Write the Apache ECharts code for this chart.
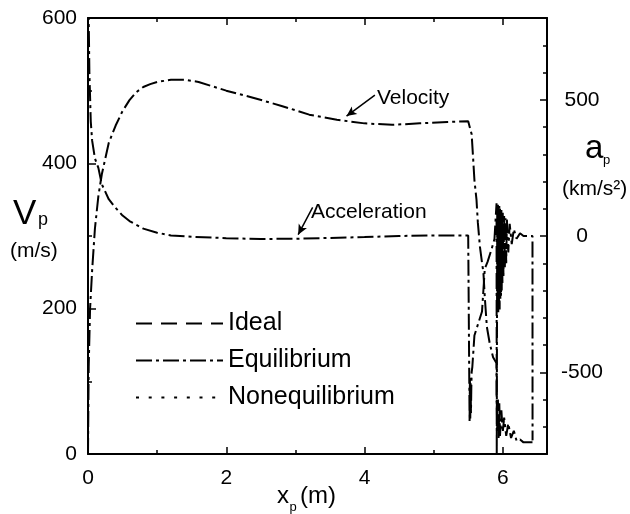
<!DOCTYPE html>
<html>
<head>
<meta charset="utf-8">
<script src="https://cdn.jsdelivr.net/npm/echarts@6/dist/echarts.min.js"></script>
<style>
html,body{margin:0;padding:0;background:#fff;}
#chart{width:630px;height:514px;}
</style>
</head>
<body>
<div id="chart"></div>
<script>
// ---- data ----
// Equilibrium velocity V_p (m/s) vs x_p (m)
var velX = [0, 0.01, 0.03, 0.06, 0.1, 0.15, 0.2, 0.3, 0.4, 0.5, 0.6, 0.7, 0.8, 0.9, 1.0, 1.2, 1.4, 1.6, 1.8, 2.0, 2.4, 2.8, 3.2, 3.6, 4.0, 4.4, 4.8, 5.2, 5.5,
            5.52, 5.55, 5.57, 5.59, 5.62, 5.64, 5.67, 5.70, 5.72, 5.74, 5.77, 5.81, 5.86, 5.91,
            5.912, 5.92, 5.93, 5.94, 5.95, 5.96, 5.98, 6.0, 6.02, 6.05, 6.08, 6.12, 6.16, 6.2, 6.25, 6.3, 6.43];
var velV = [0, 120, 200, 253, 310, 355, 385, 428, 452, 472, 487, 498, 505, 509, 512, 515, 515, 512, 506, 500, 490, 479, 467, 460, 455, 453, 455, 457, 458,
            456, 440, 409, 377, 350, 318, 285, 263, 250, 216, 175, 153, 133, 125,
            80, 30, 75, 20, 70, 25, 60, 30, 50, 25, 42, 22, 32, 18, 20, 16, 16];
// Equilibrium acceleration a_p (km/s^2) vs x_p (m)
var accX = [0, 0.01, 0.02, 0.04, 0.06, 0.1, 0.15, 0.2, 0.3, 0.4, 0.5, 0.6, 0.8, 1.0, 1.2, 1.5, 2.0, 2.5, 3.0, 3.5, 4.0, 4.5, 5.0, 5.5,
            5.52, 5.525, 5.53, 5.535, 5.54, 5.545, 5.55, 5.56, 5.59, 5.70, 5.74, 5.78, 5.84, 5.88,
            5.91, 5.913, 5.92, 5.925, 5.93, 5.935, 5.94, 5.945, 5.95, 5.955, 5.96, 5.965, 5.97, 5.975, 5.98, 5.985, 5.99, 5.995,
            6.0, 6.01, 6.02, 6.03, 6.04, 6.05, 6.06, 6.08, 6.1, 6.13, 6.16, 6.2, 6.25, 6.3, 6.43, 6.431];
var accA = [950, 800, 600, 420, 350, 285, 250, 190, 135, 103, 75, 55, 27, 12, 2, -3, -8, -11, -10, -7, -4, 0, 2, 2,
            -680, -520, -670, -540, -650, -560, -500, -480, -365, -277, -120, -95, -47, -11,
            120, -800, 110, -260, 115, -280, 105, -250, 110, -270, 100, -230, 95, -220, 95, -200, 90, -180,
            85, -150, 75, -120, 65, -100, 60, -60, 45, -30, 25, -10, 10, 0, 0, -750];
var xMajorTicks = [0, 2, 4, 6];
var xMinorTicks = [1, 3, 5];
var accLabelTicks = [-500, 0, 500];
var legendNames = ['Ideal', 'Equilibrium', 'Nonequilibrium'];

var FONT = 'Liberation Sans, Arial, Helvetica, sans-serif';
var BLACK = '#000';

var velData = velX.map(function (x, i) { return [x, velV[i]]; });
var accData = accX.map(function (x, i) { return [x, accA[i]]; });

var chart = echarts.init(document.getElementById('chart'), null, {renderer: 'canvas'});

function xAxisCfg(pos, labels, ticks, tickLen, showLine) {
  return {
    type: 'value', position: pos, min: 0, max: 6.64,
    axisLine: {show: showLine, onZero: false, lineStyle: {color: BLACK, width: 2}},
    axisTick: {show: true, inside: true, length: tickLen, customValues: ticks, lineStyle: {color: BLACK, width: 1.5}},
    axisLabel: labels ? {show: true, customValues: ticks, margin: 14, fontSize: 21, color: BLACK, fontFamily: FONT} : {show: false},
    splitLine: {show: false}
  };
}

var option = {
  animation: false,
  backgroundColor: '#fff',
  grid: {left: 88, right: 83, top: 18, bottom: 60, containLabel: false},
  xAxis: [
    xAxisCfg('bottom', true, xMajorTicks, 7, true),
    xAxisCfg('top', false, xMajorTicks, 7, true),
    xAxisCfg('bottom', false, xMinorTicks, 4, false),
    xAxisCfg('top', false, xMinorTicks, 4, false)
  ],
  yAxis: [
    {
      type: 'value', position: 'left', min: 0, max: 600, interval: 200,
      axisLine: {show: true, onZero: false, lineStyle: {color: BLACK, width: 2}},
      axisTick: {show: true, inside: true, length: 8, lineStyle: {color: BLACK, width: 1.5}},
      minorTick: {show: true, splitNumber: 2, length: 4, lineStyle: {color: BLACK, width: 1.5}},
      axisLabel: {margin: 11, fontSize: 21, color: BLACK, fontFamily: FONT},
      splitLine: {show: false}, minorSplitLine: {show: false}
    },
    {
      type: 'value', position: 'right', min: -800, max: 800,
      axisLine: {show: true, onZero: false, lineStyle: {color: BLACK, width: 2}},
      axisTick: {show: true, inside: true, length: 7, customValues: accLabelTicks, lineStyle: {color: BLACK, width: 1.5}},
      axisLabel: {show: true, customValues: accLabelTicks, align: 'center', margin: 35, fontSize: 21, color: BLACK, fontFamily: FONT},
      splitLine: {show: false}
    },
    {
      type: 'value', position: 'right', min: -800, max: 800, interval: 100,
      axisLine: {show: false, onZero: false},
      axisTick: {show: true, inside: true, length: 4, lineStyle: {color: BLACK, width: 1.5}},
      axisLabel: {show: false},
      splitLine: {show: false}
    }
  ],
  legend: {
    data: legendNames, orient: 'vertical', left: 130, top: 306,
    itemWidth: 87, itemHeight: 14, itemGap: 12, selectedMode: false,
    itemStyle: {color: 'rgba(0,0,0,0)', borderColor: 'rgba(0,0,0,0)', borderWidth: 0, opacity: 0},
    textStyle: {fontSize: 25, lineHeight: 25, color: BLACK, fontFamily: FONT}
  },
  series: [
    {
      name: 'Ideal', type: 'line', data: [], symbol: 'none', showSymbol: false,
      lineStyle: {color: BLACK, width: 2, type: [16, 9]}, itemStyle: {color: BLACK}
    },
    {
      name: 'Equilibrium', type: 'line', data: velData, xAxisIndex: 0, yAxisIndex: 0,
      symbol: 'none', showSymbol: false,
      lineStyle: {color: BLACK, width: 2, type: [16, 4, 3, 4]}, itemStyle: {color: BLACK},
      markLine: {
        silent: true, symbol: ['none', 'arrow'], symbolSize: [7, 10],
        label: {show: false},
        lineStyle: {color: BLACK, width: 1.5, type: 'solid'},
        data: [[{coord: [4.15, 494]}, {coord: [3.74, 465]}]]
      }
    },
    {
      name: 'Equilibrium', type: 'line', data: accData, xAxisIndex: 0, yAxisIndex: 1,
      symbol: 'none', showSymbol: false,
      lineStyle: {color: BLACK, width: 2, type: [16, 4, 3, 4]}, itemStyle: {color: BLACK},
      markLine: {
        silent: true, symbol: ['none', 'arrow'], symbolSize: [7, 10],
        label: {show: false},
        lineStyle: {color: BLACK, width: 1.5, type: 'solid'},
        data: [[{coord: [3.25, 105]}, {coord: [3.04, 5]}]]
      }
    },
    {
      name: 'Nonequilibrium', type: 'line', data: [], symbol: 'none', showSymbol: false,
      lineStyle: {color: BLACK, width: 2, type: [3, 9.7]}, itemStyle: {color: BLACK}
    }
  ],
  graphic: [
    {type: 'text', x: 13, y: 214.8, style: {text: 'V', fontSize: 35, fontFamily: FONT, fill: BLACK, verticalAlign: 'middle'}},
    {type: 'text', x: 38, y: 220, style: {text: 'p', fontSize: 18, fontFamily: FONT, fill: BLACK, verticalAlign: 'middle'}},
    {type: 'text', x: 10, y: 251, style: {text: '(m/s)', fontSize: 21, fontFamily: FONT, fill: BLACK, verticalAlign: 'middle'}},
    {type: 'text', x: 585, y: 148.5, style: {text: 'a', fontSize: 33, fontFamily: FONT, fill: BLACK, verticalAlign: 'middle'}},
    {type: 'text', x: 603, y: 160, style: {text: 'p', fontSize: 13, fontFamily: FONT, fill: BLACK, verticalAlign: 'middle'}},
    {type: 'text', x: 562, y: 189.6, style: {text: '(km/s²)', fontSize: 21, fontFamily: FONT, fill: BLACK, verticalAlign: 'middle'}},
    {type: 'text', x: 277, y: 496.6, style: {text: 'x', fontSize: 24, fontFamily: FONT, fill: BLACK, verticalAlign: 'middle'}},
    {type: 'text', x: 289.5, y: 507, style: {text: 'p', fontSize: 13, fontFamily: FONT, fill: BLACK, verticalAlign: 'middle'}},
    {type: 'text', x: 300, y: 496.6, style: {text: '(m)', fontSize: 24, fontFamily: FONT, fill: BLACK, verticalAlign: 'middle'}},
    {type: 'text', x: 377, y: 98, style: {text: 'Velocity', fontSize: 21, fontFamily: FONT, fill: BLACK, verticalAlign: 'middle'}},
    {type: 'text', x: 311, y: 212, style: {text: 'Acceleration', fontSize: 21, fontFamily: FONT, fill: BLACK, verticalAlign: 'middle'}}
  ]
};
chart.setOption(option);
</script>
</body>
</html>
